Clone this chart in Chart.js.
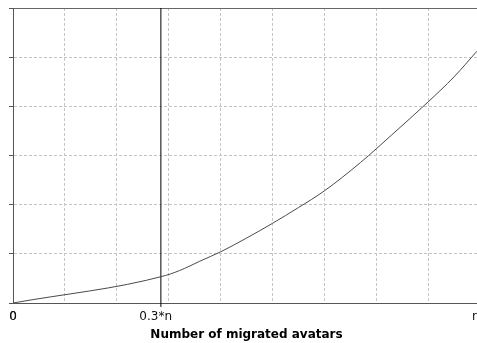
<!DOCTYPE html>
<html>
<head>
<meta charset="utf-8">
<script src="https://cdn.jsdelivr.net/npm/chart.js@4/dist/chart.umd.min.js"></script>
<style>
  html, body { margin: 0; padding: 0; background: #fff; overflow: hidden; }
  #wrap { width: 487px; height: 343px; position: relative; }
</style>
</head>
<body>
<div id="wrap"><canvas id="chart"></canvas></div>
<script>
// values in grid units (one vertical / horizontal grid cell = 1)
const curveX = [0, 2.94, 3.3, 3.6, 4.0, 4.5, 5.0, 5.5, 6.0, 6.7, 7.3, 8.0, 8.5, 8.94];
const curveY = [0, 0.56, 0.70, 0.85, 1.04, 1.32, 1.62, 1.94, 2.28, 2.86, 3.42, 4.09, 4.60, 5.12];

const markerX = 2.85;          // the 0.3*n line
const yTop = 6;
const xMax = 9;

const tickValues = [0, 2.75, 8.92];
const tickLabels = ['0', '0.3*n', 'n'];

document.addEventListener('DOMContentLoaded', () => {
    const ctx = document.getElementById('chart').getContext('2d');

    const gridX = [];
    for (let i = 0; i <= xMax; i++) gridX.push(i);

    new Chart(ctx, {
        type: 'line',
        data: {
            datasets: [{
                data: curveX.map((x, i) => ({ x: x, y: curveY[i] })),
                borderColor: '#4a4a4a',
                borderWidth: 1,
                pointRadius: 0,
                cubicInterpolationMode: 'monotone'
            }, {
                data: [{ x: markerX, y: -0.08 }, { x: markerX, y: yTop }],
                borderColor: '#000',
                borderWidth: 1,
                pointRadius: 0,
                clip: 4
            }]
        },
        options: {
            animation: false,
            responsive: true,
            maintainAspectRatio: false,
            layout: { padding: { top: 8, left: 0, right: 0, bottom: 0 } },
            plugins: { legend: { display: false }, tooltip: { enabled: false } },
            scales: {
                x: {
                    type: 'linear',
                    min: 0,
                    max: xMax,
                    afterBuildTicks: (s) => {
                        const vals = gridX.concat(tickValues).sort((a, b) => a - b);
                        s.ticks = vals.map(v => ({ value: v }));
                    },
                    afterFit: (s) => { s.height = 40; },
                    ticks: {
                        autoSkip: false,
                        maxRotation: 0,
                        padding: 7,
                        color: '#111',
                        font: { family: 'DejaVu Sans', size: 12 },
                        callback: (v) => {
                            const i = tickValues.indexOf(v);
                            return i >= 0 ? tickLabels[i] : '';
                        }
                    },
                    grid: {
                        drawTicks: false,
                        color: (c) => (c.tick && Number.isInteger(c.tick.value) ? '#c4c4c4' : 'rgba(0,0,0,0)')
                    },
                    border: { color: '#555', width: 1, dash: [3, 2] },
                    title: {
                        display: true,
                        text: 'Number of migrated avatars',
                        color: '#000',
                        font: { family: 'DejaVu Sans', size: 12, weight: 'bold' },
                        padding: { top: 0, bottom: 1 }
                    }
                },
                xTop: {
                    type: 'linear',
                    position: 'top',
                    min: 0,
                    max: xMax,
                    afterFit: (s) => { s.height = 0; },
                    ticks: { display: false },
                    grid: { display: false },
                    border: { display: true, color: '#666', width: 1 }
                },
                y: {
                    min: 0,
                    max: yTop,
                    afterFit: (s) => { s.width = 13; },
                    ticks: { display: false, stepSize: 1 },
                    grid: {
                        color: '#c4c4c4',
                        tickLength: 4,
                        tickColor: '#555',
                        tickBorderDash: []
                    },
                    border: { color: '#555', width: 1, dash: [3, 2] }
                }
            }
        }
    });
});
</script>
</body>
</html>
